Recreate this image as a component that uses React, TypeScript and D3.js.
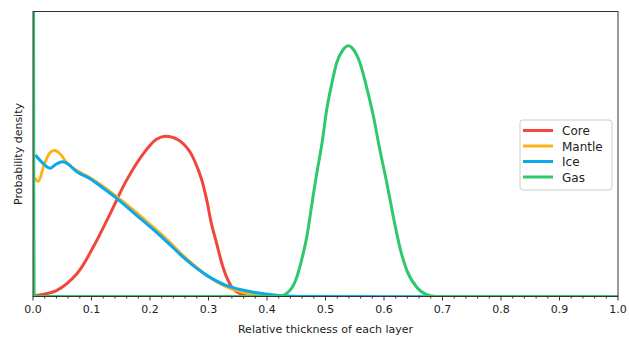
import React from "react";
import * as d3 from "d3";

// density curves
const coreX = [0, 0.006, 0.04, 0.075, 0.103, 0.132, 0.16, 0.189, 0.211, 0.226, 0.248, 0.266, 0.278, 0.288, 0.297, 0.305, 0.314, 0.323, 0.331, 0.342, 0.357, 0.372, 1.0];
const coreY = [0, 0.04, 0.25, 0.96, 2.08, 3.49, 4.9, 6.03, 6.62, 6.75, 6.6, 6.17, 5.61, 4.95, 4.06, 3.07, 2.23, 1.38, 0.82, 0.33, 0.08, 0, 0];

const mantleX = [0.003, 0.009, 0.02, 0.03, 0.038, 0.048, 0.058, 0.075, 0.097, 0.12, 0.143, 0.177, 0.2, 0.223, 0.263, 0.297, 0.331, 0.36, 0.38, 0.41, 1.0];
const mantleY = [5.0, 4.85, 5.62, 6.08, 6.15, 5.96, 5.62, 5.3, 5.01, 4.63, 4.2, 3.53, 3.04, 2.54, 1.58, 0.89, 0.4, 0.17, 0.06, 0, 0];

const iceX = [0.004, 0.015, 0.029, 0.04, 0.05, 0.06, 0.075, 0.097, 0.12, 0.143, 0.177, 0.2, 0.223, 0.263, 0.297, 0.331, 0.377, 0.42, 0.46, 1.0];
const iceY = [5.96, 5.66, 5.4, 5.58, 5.67, 5.58, 5.25, 4.97, 4.56, 4.13, 3.42, 2.94, 2.44, 1.52, 0.89, 0.46, 0.18, 0.04, 0, 0];

const gasX = [0, 0.002, 0.42, 0.439, 0.451, 0.459, 0.468, 0.476, 0.485, 0.494, 0.502, 0.511, 0.519, 0.53, 0.539, 0.548, 0.559, 0.57, 0.582, 0.593, 0.605, 0.616, 0.627, 0.639, 0.656, 0.673, 0.69, 1.0];
const gasY = [40, 0, 0, 0.25, 0.82, 1.52, 2.51, 3.77, 5.18, 6.45, 7.86, 8.99, 9.83, 10.39, 10.56, 10.39, 9.83, 8.84, 7.58, 6.17, 4.76, 3.35, 2.08, 1.1, 0.39, 0.08, 0, 0];

const seriesNames = ["Core", "Mantle", "Ice", "Gas"];
const seriesColors = ["#f0463c", "#fcb31a", "#0aa8ec", "#2fc86c"];
const xTicks = [0, 0.1, 0.2, 0.3, 0.4, 0.5, 0.6, 0.7, 0.8, 0.9, 1.0];

const W = 629;
const H = 338;
const m = { left: 33, right: 618, top: 11.5, bottom: 296.5 };

export default function App() {
  const x = d3.scaleLinear().domain([0, 1]).range([m.left, m.right]);
  const y = d3.scaleLinear().domain([0, 12]).range([m.bottom, m.top]);

  const series = [
    { xs: coreX, ys: coreY, curve: d3.curveCatmullRom.alpha(0.5) },
    { xs: mantleX, ys: mantleY, curve: d3.curveCatmullRom.alpha(0.5) },
    { xs: iceX, ys: iceY, curve: d3.curveCatmullRom.alpha(0.5) },
    // the spike at 0 needs a curve that does not overshoot
    { xs: gasX, ys: gasY, curve: d3.curveMonotoneX },
  ];

  const minorTicks = d3.range(0, 51).map((i) => i / 50).filter((_, i) => i % 5 !== 0);

  const legX = 520;
  const legY = 120;

  return (
    <svg width={W} height={H} style={{ position: "absolute", left: 0, top: 0, fontFamily: "DejaVu Sans" }}>
      <defs>
        <clipPath id="plot">
          <rect x={m.left} y={m.top} width={m.right - m.left} height={m.bottom - m.top} />
        </clipPath>
      </defs>
      <rect width={W} height={H} fill="#fff" />

      <g clipPath="url(#plot)">
        {series.map((s, i) => {
          const line = d3
            .line<[number, number]>()
            .x((d) => x(d[0]))
            .y((d) => y(d[1]))
            .curve(s.curve);
          return (
            <path
              key={seriesNames[i]}
              d={line(s.xs.map((v, j) => [v, s.ys[j]] as [number, number])) || ""}
              fill="none"
              stroke={seriesColors[i]}
              strokeWidth={3}
              strokeLinejoin="round"
            />
          );
        })}
      </g>

      {/* frame */}
      <rect
        x={m.left}
        y={m.top}
        width={m.right - m.left}
        height={m.bottom - m.top}
        fill="none"
        stroke="#333"
        strokeWidth={1}
      />

      {/* x axis ticks */}
      {xTicks.map((t) => (
        <g key={t}>
          <line x1={x(t)} x2={x(t)} y1={m.bottom} y2={m.bottom + 4} stroke="#333" />
          <text x={x(t)} y={m.bottom + 16} fontSize={11} textAnchor="middle" fill="#222">
            {t.toFixed(1)}
          </text>
        </g>
      ))}
      {minorTicks.map((t) => (
        <line key={"m" + t} x1={x(t)} x2={x(t)} y1={m.bottom} y2={m.bottom + 2} stroke="#333" />
      ))}

      <text x={(m.left + m.right) / 2} y={333} fontSize={11} textAnchor="middle" fill="#222">
        Relative thickness of each layer
      </text>
      <text
        transform={`translate(22,${(m.top + m.bottom) / 2}) rotate(-90)`}
        fontSize={11}
        textAnchor="middle"
        fill="#222"
      >
        Probability density
      </text>

      {/* legend */}
      <rect x={legX} y={legY} width={92} height={70} rx={3} fill="#fff" fillOpacity={0.8} stroke="#ccc" />
      {seriesNames.map((n, i) => (
        <g key={n} transform={`translate(${legX}, ${legY + 10.5 + i * 15.5})`}>
          <line x1={3} x2={33} y1={0} y2={0} stroke={seriesColors[i]} strokeWidth={3} />
          <text x={42} y={4.5} fontSize={12} fill="#222">
            {n}
          </text>
        </g>
      ))}
    </svg>
  );
}
